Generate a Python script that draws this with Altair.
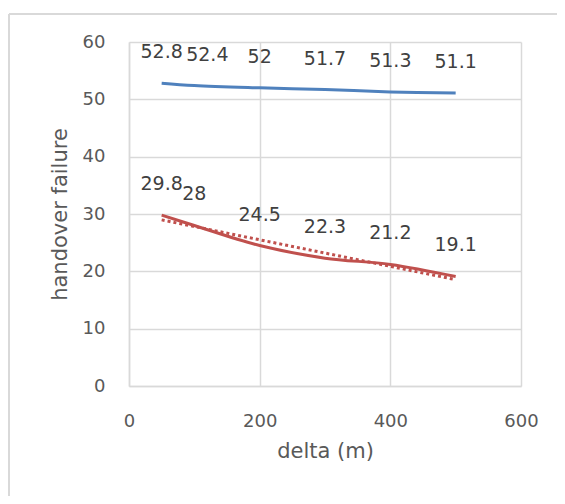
import altair as alt
import pandas as pd

# ---- data ----
delta = [50, 100, 200, 300, 400, 500]
series_names = ["upper", "lower"]
upper_values = [52.8, 52.4, 52.0, 51.7, 51.3, 51.1]
lower_values = [29.8, 28.0, 24.5, 22.3, 21.2, 19.1]
series_colors = ["#4F81BD", "#C0504D"]
x_ticks = [0, 200, 400, 600]
y_ticks = [0, 10, 20, 30, 40, 50, 60]

rows = []
for name, vals in zip(series_names, [upper_values, lower_values]):
    for d, v in zip(delta, vals):
        rows.append({"series": name, "delta": d, "value": v})
df = pd.DataFrame(rows)

FONT = "DejaVu Sans"
GRID = "#D9D9D9"
TEXT = "#595959"

x_enc = alt.X(
    "delta:Q",
    scale=alt.Scale(domain=[0, 600], nice=False),
    axis=alt.Axis(values=x_ticks, title="delta (m)", labelPadding=26, titlePadding=10,
                  labelFlush=False),
)
y_enc = alt.Y(
    "value:Q",
    scale=alt.Scale(domain=[0, 60], nice=False),
    axis=alt.Axis(values=y_ticks, title="handover failure", labelPadding=24, titlePadding=12,
                  labelFlush=False),
)
color_enc = alt.Color(
    "series:N",
    scale=alt.Scale(domain=series_names, range=series_colors),
    legend=None,
)

base = alt.Chart(df)

lines = base.mark_line(interpolate="catmull-rom", strokeWidth=3).encode(
    x=x_enc, y=y_enc, color=color_enc
)

trend = (
    base.transform_filter(alt.datum.series == series_names[1])
    .transform_regression("delta", "value")
    .mark_line(strokeDash=[3, 3], strokeWidth=3, color=series_colors[1])
    .encode(x="delta:Q", y="value:Q")
)

is_nudged = (alt.datum.series == series_names[0]) & (alt.datum.delta == delta[1])

labels = (
    base.transform_filter(~is_nudged)
    .mark_text(dy=-31, fontSize=19, font=FONT, color="#404040", baseline="middle")
    .encode(x="delta:Q", y="value:Q", text=alt.Text("value:Q", format="~g"))
)
labels_nudged = (
    base.transform_filter(is_nudged)
    .mark_text(dy=-31, dx=13, fontSize=19, font=FONT, color="#404040", baseline="middle")
    .encode(x="delta:Q", y="value:Q", text=alt.Text("value:Q", format="~g"))
)

frame_src = alt.Chart(pd.DataFrame({"k": [0]}))
frame_left = frame_src.mark_rule(color=GRID, strokeWidth=2).encode(
    x=alt.value(-120), y=alt.value(-28), y2=alt.value(520)
)
frame_top = frame_src.mark_rule(color=GRID, strokeWidth=2).encode(
    x=alt.value(-120), x2=alt.value(480), y=alt.value(-28)
)

chart = (
    alt.layer(frame_left, frame_top, lines, trend, labels, labels_nudged)
    .properties(
        width=392,
        height=344,
        autosize=alt.AutoSizeParams(type="none"),
        padding={"left": 121, "top": 34, "right": 36, "bottom": 110},
        background="white",
    )
    .configure_view(stroke=None)
    .configure_axis(
        labelFont=FONT,
        titleFont=FONT,
        labelFontSize=18,
        titleFontSize=21,
        titleFontWeight="normal",
        labelColor=TEXT,
        titleColor=TEXT,
        ticks=False,
        tickSize=0,
        domainColor=GRID,
        domainWidth=1.5,
        gridColor=GRID,
        gridWidth=1.5,
        gridOpacity=1,
    )
)

chart.save("out.html", embed_options={"renderer": "svg", "actions": False})
